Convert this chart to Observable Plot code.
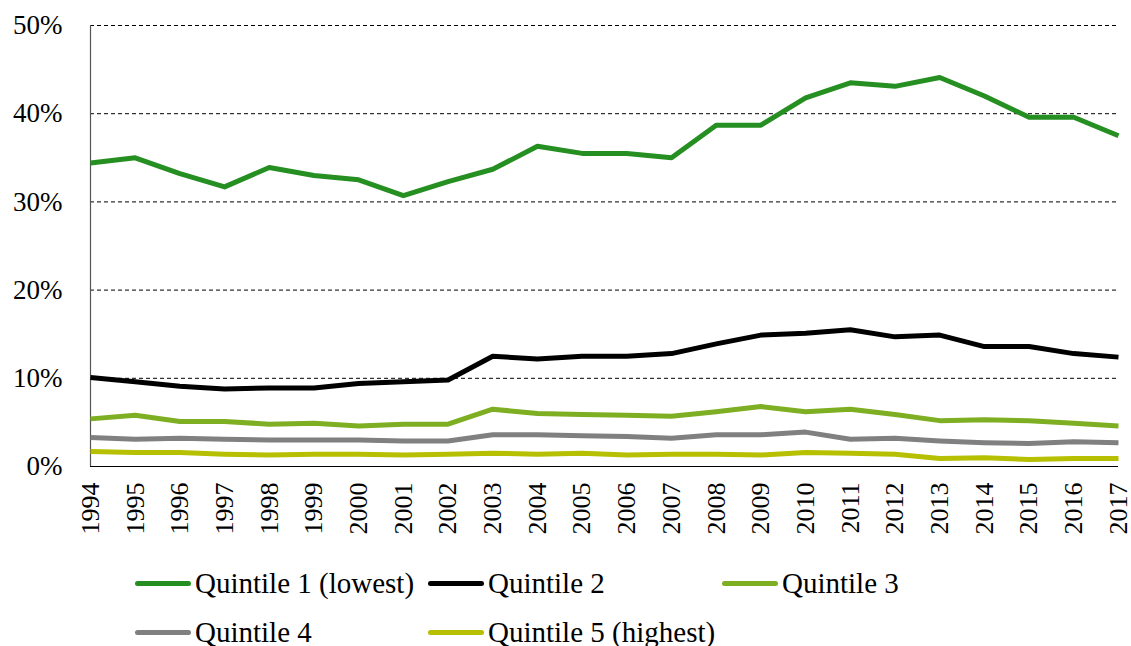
<!DOCTYPE html>
<html>
<head>
<meta charset="utf-8">
<script src="https://cdn.jsdelivr.net/npm/d3@7"></script>
<script src="https://cdn.jsdelivr.net/npm/@observablehq/plot@0.6"></script>
<style>
  html, body { margin: 0; padding: 0; background: #fff; overflow: hidden; }
  #chart { width: 1131px; }
  #chart svg, #chart svg text { font-family: "Liberation Serif", "Tinos", "Times New Roman", "DejaVu Serif", serif !important; }
  #legend { position: relative; width: 1131px; height: 86px; font-family: "Liberation Serif", "Tinos", "Times New Roman", "DejaVu Serif", serif; font-size: 29px; color: #000; }
  .item { position: absolute; display: flex; align-items: center; white-space: nowrap; line-height: 1; }
  .sw { display: inline-block; width: 56px; height: 5px; border-radius: 3px; margin-right: 4px; }
</style>
</head>
<body>
<div id="chart"></div>
<div id="legend"></div>
<script>
const years = [1994,1995,1996,1997,1998,1999,2000,2001,2002,2003,2004,2005,2006,2007,2008,2009,2010,2011,2012,2013,2014,2015,2016,2017];
const q1 = [34.4,35.0,33.2,31.7,33.9,33.0,32.5,30.7,32.3,33.7,36.3,35.5,35.5,35.0,38.7,38.7,41.8,43.5,43.1,44.1,42.0,39.6,39.6,37.5];
const q2 = [10.1,9.6,9.1,8.8,8.9,8.9,9.4,9.6,9.8,12.5,12.2,12.5,12.5,12.8,13.9,14.9,15.1,15.5,14.7,14.9,13.6,13.6,12.8,12.4];
const q3 = [5.4,5.8,5.1,5.1,4.8,4.9,4.6,4.8,4.8,6.5,6.0,5.9,5.8,5.7,6.2,6.8,6.2,6.5,5.9,5.2,5.3,5.2,4.9,4.6];
const q4 = [3.3,3.1,3.2,3.1,3.0,3.0,3.0,2.9,2.9,3.6,3.6,3.5,3.4,3.2,3.6,3.6,3.9,3.1,3.2,2.9,2.7,2.6,2.8,2.7];
const q5 = [1.7,1.6,1.6,1.4,1.3,1.4,1.4,1.3,1.4,1.5,1.4,1.5,1.3,1.4,1.4,1.3,1.6,1.5,1.4,0.9,1.0,0.8,0.9,0.9];
const seriesNames = ["Quintile 1 (lowest)","Quintile 2","Quintile 3","Quintile 4","Quintile 5 (highest)"];
const yTicks = [0,10,20,30,40,50];
const gridTicks = [10,20,30,40,50];

const seriesValues = [q1,q2,q3,q4,q5];
const colors = ["#268f22","#000000","#7eae22","#808080","#b6bf00"];
const rows = [];
seriesNames.forEach((name, i) => {
  years.forEach((yr, j) => rows.push({series: name, year: yr, value: seriesValues[i][j]}));
});

const chart = Plot.plot({
  width: 1131,
  height: 560,
  marginTop: 25,
  marginBottom: 94,
  marginLeft: 90,
  marginRight: 13,
  style: {fontFamily: "'Liberation Serif', 'Times New Roman', serif", fontSize: "27px", color: "#000", background: "#fff"},
  x: {type: "linear", domain: [1994, 2017]},
  y: {domain: [0, 50]},
  color: {domain: seriesNames, range: colors},
  marks: [
    Plot.ruleY(gridTicks, {stroke: "#000", strokeWidth: 1, strokeDasharray: "4,3"}),
    Plot.ruleX([1994], {y1: 0, y2: 50, stroke: "#555", strokeWidth: 1.2}),
    Plot.ruleY([0], {stroke: "#000", strokeWidth: 1.2}),
    Plot.axisY({ticks: yTicks, tickFormat: d => d + "%", tickSize: 0, tickPadding: 28, fontSize: 27, label: null}),
    Plot.axisX({ticks: years, tickFormat: d => String(d), tickRotate: -90, tickSize: 0, tickPadding: 16, fontSize: 26, label: null}),
    Plot.line(rows, {x: "year", y: "value", z: "series", stroke: "series", strokeWidth: 5, strokeLinejoin: "round", strokeLinecap: "butt"})
  ]
});
document.getElementById("chart").appendChild(chart);

const legendPos = [
  {left: 135, top: 23},
  {left: 428, top: 23},
  {left: 722, top: 23},
  {left: 135, top: 72},
  {left: 428, top: 72}
];
const legend = document.getElementById("legend");
seriesNames.forEach((name, i) => {
  const it = document.createElement("div");
  it.className = "item";
  it.style.left = legendPos[i].left + "px";
  it.style.top = (legendPos[i].top - 15) + "px";
  it.style.height = "30px";
  const sw = document.createElement("span");
  sw.className = "sw";
  sw.style.background = colors[i];
  const tx = document.createElement("span");
  tx.textContent = name;
  it.appendChild(sw);
  it.appendChild(tx);
  legend.appendChild(it);
});
</script>
</body>
</html>
